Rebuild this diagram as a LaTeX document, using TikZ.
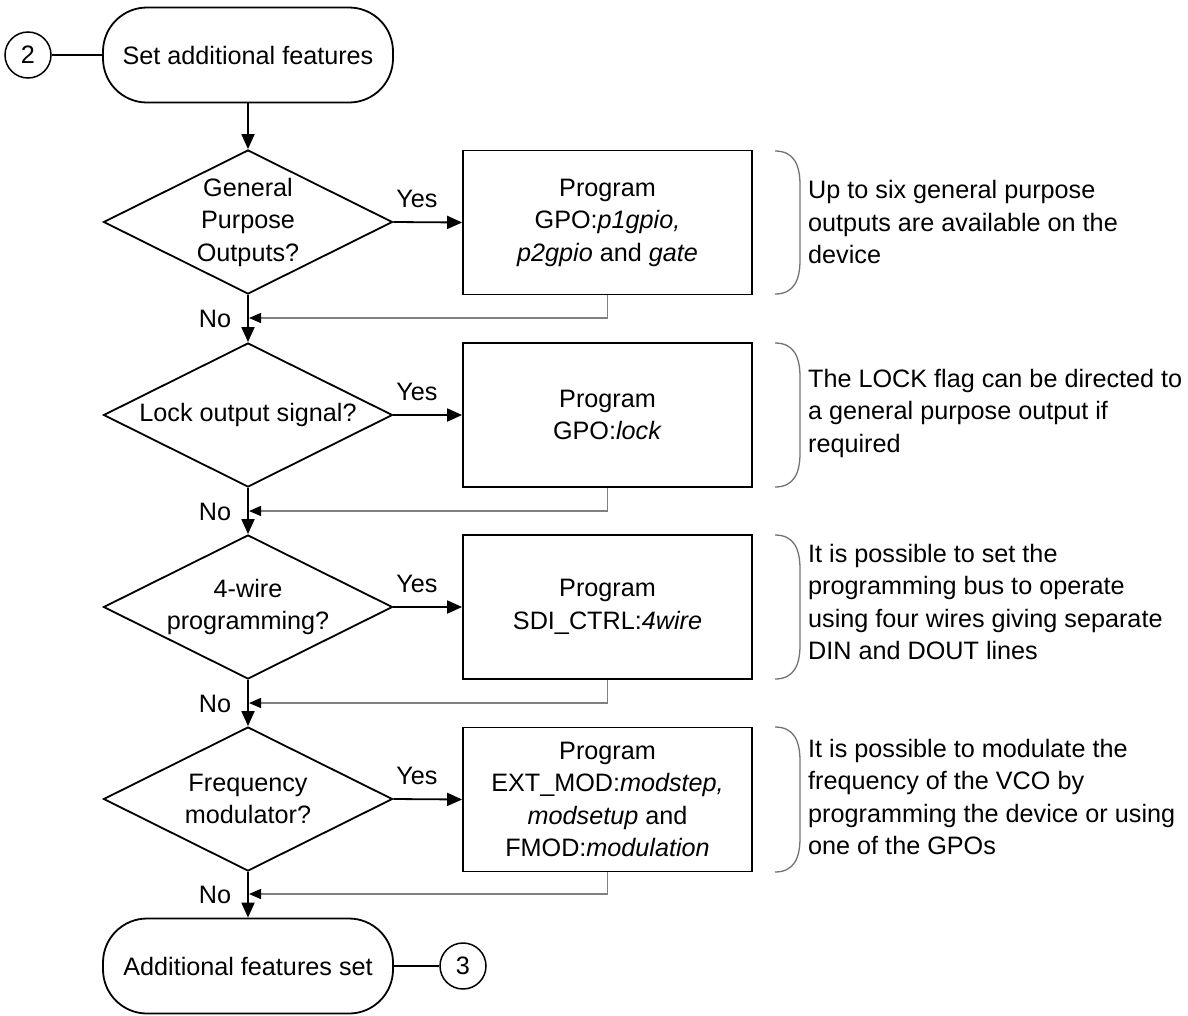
\documentclass[tikz,border=0pt]{standalone}
\usepackage{fontspec}
\setmainfont{Liberation Sans}
\usetikzlibrary{shapes.geometric,arrows.meta}
\begin{document}
\begin{tikzpicture}[x=1pt,y=-1pt,
  every node/.style={font=\fontsize{25.2}{32.5}\selectfont},
  main/.style={line width=1.8pt,-{Triangle[length=15pt,width=13pt]}},
  plain/.style={line width=1.8pt},
  ret/.style={line width=1.3pt,draw=black!50,-{Triangle[length=12pt,width=10pt,color=black]}},
  brace/.style={line width=1.3pt,draw=black!55},
  dec/.style={draw,line width=1.8pt,shape=diamond,aspect=2,minimum width=289pt,minimum height=144pt,inner sep=0pt,align=center},
  proc/.style={draw,line width=1.8pt,minimum width=289pt,minimum height=144pt,inner sep=0pt,align=center},
  term/.style={draw,line width=1.8pt,rounded corners=44pt,minimum width=290pt,minimum height=95pt,align=center},
  circ/.style={draw,circle,line width=1.5pt,minimum size=46pt,inner sep=0pt},
  note/.style={anchor=west,align=left,inner sep=0pt},
  lbl/.style={inner sep=0pt}]
\useasboundingbox (0,0) rectangle (1188,1015);

% terminals and connectors
\node[term] (start) at (248,55) {Set additional features};
\node[circ] (c2) at (28,55) {2};
\node[term] (stop) at (248,966) {Additional features set};
\node[circ] (c3) at (463,966) {3};

% decisions
\node[dec] (d1) at (248,222) {General\\Purpose\\Outputs?};
\node[dec] (d2) at (248,415) {Lock output signal?};
\node[dec] (d3) at (248,607) {4-wire\\programming?};
\node[dec] (d4) at (248,799) {Frequency\\modulator?};

% processes
\node[proc] (b1) at (607.5,222.5) {Program\\GPO:\textit{p1gpio,}\\\textit{p2gpio} and \textit{gate}};
\node[proc] (b2) at (607.5,415) {Program\\GPO:\textit{lock}};
\node[proc] (b3) at (607.5,607) {Program\\SDI\_CTRL:\textit{4wire}};
\node[proc] (b4) at (607.5,799.5) {Program\\EXT\_MOD:\textit{modstep,}\\\textit{modsetup} and\\FMOD:\textit{modulation}};

% notes
\node[note] (n1) at (808,222) {Up to six general purpose\\outputs are available on the\\device};
\node[note] (n2) at (808,413) {The LOCK flag can be directed to\\a general purpose output if\\required};
\node[note] (n3) at (808,602) {It is possible to set the\\programming bus to operate\\using four wires giving separate\\DIN and DOUT lines};
\node[note] (n4) at (808,797) {It is possible to modulate the\\frequency of the VCO by\\programming the device or using\\one of the GPOs};

% braces
\foreach \t/\b in {151/294,343/487,535/679,727/872}
  \draw[brace] (775,\t) .. controls (794,\t) and (800,\t+14) .. (800,\t+34)
     -- (800,\b-34) .. controls (800,\b-14) and (794,\b) .. (775,\b);

% labels
\node[lbl] (y1) at (417,199) {Yes};
\node[lbl] (y2) at (417,392) {Yes};
\node[lbl] (y3) at (417,584) {Yes};
\node[lbl] (y4) at (417,776) {Yes};
\node[lbl] (o1) at (215,319) {No};
\node[lbl] (o2) at (215,512) {No};
\node[lbl] (o3) at (215,704) {No};
\node[lbl] (o4) at (215,895) {No};

% return points
\coordinate (r1) at (249,318);
\coordinate (r2) at (249,511);
\coordinate (r3) at (249,703);
\coordinate (r4) at (249,894);

% connectors
\draw[plain] (c2) -- (start.west);
\draw[plain] (stop.east) -- (c3);
\draw[main] (start.south) -- (d1.north);
\draw[main] (d1.south) -- (d2.north);
\draw[main] (d2.south) -- (d3.north);
\draw[main] (d3.south) -- (d4.north);
\draw[main] (d4.south) -- (stop.north);
\draw[main] (d1.east) -- (b1.west);
\draw[main] (d2.east) -- (b2.west);
\draw[main] (d3.east) -- (b3.west);
\draw[main] (d4.east) -- (b4.west);
\draw[ret] (b1.south) |- (r1);
\draw[ret] (b2.south) |- (r2);
\draw[ret] (b3.south) |- (r3);
\draw[ret] (b4.south) |- (r4);
\end{tikzpicture}
\end{document}
